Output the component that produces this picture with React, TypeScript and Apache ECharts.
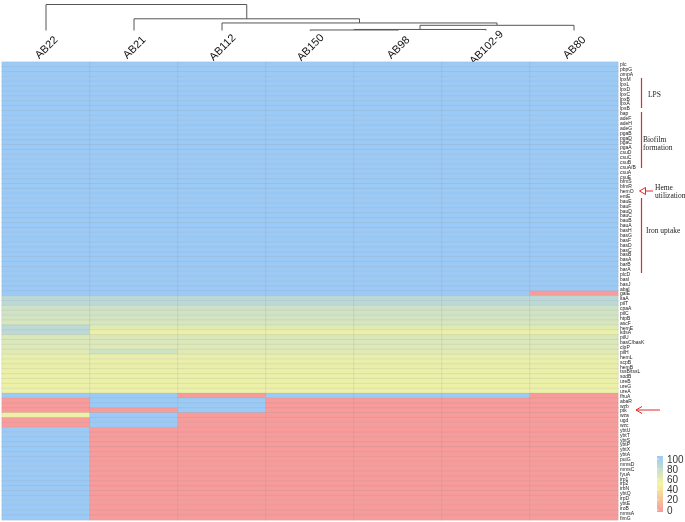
import { useEffect, useRef } from 'react';
import * as echarts from 'echarts';

const strains = ['AB22', 'AB21', 'AB112', 'AB150', 'AB98', 'AB102-9', 'AB80'];

const genes = [
  'plc', 'pbpG', 'ompA', 'lpxM', 'lpxL', 'lpxD', 'lpxC', 'lpxB', 'lpxA', 'lpsB',
  'bap', 'adeF', 'adeH', 'adeG', 'pgaB', 'pgaD', 'pgaC', 'pgaA', 'csuD', 'csuC',
  'csuB', 'csuA/B', 'csuA', 'csuE', 'bfmS', 'bfmR', 'hemO', 'entE', 'bauE', 'bauF',
  'bauD', 'bauC', 'bauB', 'bauA', 'basH', 'basG', 'basF', 'basD', 'basC', 'basB',
  'basA', 'barB', 'barA', 'plcD', 'basI', 'basJ', 'abaI', 'galE', 'ltaA', 'pilT',
  'cpaA', 'pilC', 'htpB', 'ascF', 'hemE', 'kdsA', 'pilU', 'basC/basK', 'clpP', 'pilH',
  'hemL', 'scpB', 'hemB', 'tssB/tssL', 'sodB', 'ureB', 'ureG', 'ureA', 'fhuA', 'abaR',
  'wzb', 'ptk', 'wza', 'ugd', 'wzc', 'ybtU', 'ybtT', 'ybtS', 'ybtP', 'ybtX',
  'ybtA', 'puiG', 'mmsD', 'mmsC', 'fyuA', 'irp1', 'irp2', 'irbN', 'ybtQ', 'irpD',
  'ybtE', 'iroB', 'mmsA', 'fimG',
];

// identity (%) per strain, one value per gene (top to bottom)
const AB22 = [
  100, 100, 100, 100, 100, 100, 100, 100, 100, 100,
  100, 100, 100, 100, 100, 100, 100, 100, 100, 100,
  100, 100, 100, 100, 100, 100, 100, 100, 100, 100,
  100, 100, 100, 100, 100, 100, 100, 100, 100, 100,
  100, 100, 100, 100, 100, 100, 100, 100, 82, 82,
  72, 71, 70, 68, 82, 82, 66, 65, 64, 63,
  58, 57, 57, 56, 56, 55, 55, 55, 100, 0,
  0, 0, 55, 0, 0, 100, 100, 100, 100, 100,
  100, 100, 100, 100, 100, 100, 100, 100, 100, 100,
  100, 100, 100, 100,
];
const AB21 = [
  100, 100, 100, 100, 100, 100, 100, 100, 100, 100,
  100, 100, 100, 100, 100, 100, 100, 100, 100, 100,
  100, 100, 100, 100, 100, 100, 100, 100, 100, 100,
  100, 100, 100, 100, 100, 100, 100, 100, 100, 100,
  100, 100, 100, 100, 100, 100, 100, 100, 82, 82,
  72, 71, 70, 68, 62, 55, 66, 65, 64, 72,
  58, 57, 57, 56, 56, 55, 55, 55, 100, 100,
  100, 0, 100, 100, 100, 0, 0, 0, 0, 0,
  0, 0, 0, 0, 0, 0, 0, 0, 0, 0,
  0, 0, 0, 0,
];
const AB112 = [
  100, 100, 100, 100, 100, 100, 100, 100, 100, 100,
  100, 100, 100, 100, 100, 100, 100, 100, 100, 100,
  100, 100, 100, 100, 100, 100, 100, 100, 100, 100,
  100, 100, 100, 100, 100, 100, 100, 100, 100, 100,
  100, 100, 100, 100, 100, 100, 100, 100, 82, 82,
  72, 71, 70, 68, 62, 55, 66, 65, 64, 63,
  58, 57, 57, 56, 56, 55, 55, 55, 0, 100,
  100, 100, 0, 0, 0, 0, 0, 0, 0, 0,
  0, 0, 0, 0, 0, 0, 0, 0, 0, 0,
  0, 0, 0, 0,
];
const AB150 = [
  100, 100, 100, 100, 100, 100, 100, 100, 100, 100,
  100, 100, 100, 100, 100, 100, 100, 100, 100, 100,
  100, 100, 100, 100, 100, 100, 100, 100, 100, 100,
  100, 100, 100, 100, 100, 100, 100, 100, 100, 100,
  100, 100, 100, 100, 100, 100, 100, 100, 82, 82,
  72, 71, 70, 68, 62, 55, 66, 65, 64, 63,
  58, 57, 57, 56, 56, 55, 55, 55, 100, 0,
  0, 0, 0, 0, 0, 0, 0, 0, 0, 0,
  0, 0, 0, 0, 0, 0, 0, 0, 0, 0,
  0, 0, 0, 0,
];
const AB98 = [
  100, 100, 100, 100, 100, 100, 100, 100, 100, 100,
  100, 100, 100, 100, 100, 100, 100, 100, 100, 100,
  100, 100, 100, 100, 100, 100, 100, 100, 100, 100,
  100, 100, 100, 100, 100, 100, 100, 100, 100, 100,
  100, 100, 100, 100, 100, 100, 100, 100, 82, 82,
  72, 71, 70, 68, 62, 55, 66, 65, 64, 63,
  58, 57, 57, 56, 56, 55, 55, 55, 100, 0,
  0, 0, 0, 0, 0, 0, 0, 0, 0, 0,
  0, 0, 0, 0, 0, 0, 0, 0, 0, 0,
  0, 0, 0, 0,
];
const AB102_9 = [
  100, 100, 100, 100, 100, 100, 100, 100, 100, 100,
  100, 100, 100, 100, 100, 100, 100, 100, 100, 100,
  100, 100, 100, 100, 100, 100, 100, 100, 100, 100,
  100, 100, 100, 100, 100, 100, 100, 100, 100, 100,
  100, 100, 100, 100, 100, 100, 100, 100, 82, 82,
  72, 71, 70, 68, 62, 55, 66, 65, 64, 63,
  58, 57, 57, 56, 56, 55, 55, 55, 100, 0,
  0, 0, 0, 0, 0, 0, 0, 0, 0, 0,
  0, 0, 0, 0, 0, 0, 0, 0, 0, 0,
  0, 0, 0, 0,
];
const AB80 = [
  100, 100, 100, 100, 100, 100, 100, 100, 100, 100,
  100, 100, 100, 100, 100, 100, 100, 100, 100, 100,
  100, 100, 100, 100, 100, 100, 100, 100, 100, 100,
  100, 100, 100, 100, 100, 100, 100, 100, 100, 100,
  100, 100, 100, 100, 100, 100, 100, 0, 82, 82,
  72, 71, 70, 68, 62, 55, 66, 65, 64, 63,
  58, 57, 57, 56, 56, 55, 55, 55, 0, 0,
  0, 0, 0, 0, 0, 0, 0, 0, 0, 0,
  0, 0, 0, 0, 0, 0, 0, 0, 0, 0,
  0, 0, 0, 0,
];

const legendTicks = [0, 20, 40, 60, 80, 100];

// column dendrogram: merges with relative heights
const dendroMerges = [
  { id: 'm0', a: 'AB150', b: 'AB98', h: 0.02 },
  { id: 'm1', a: 'm0', b: 'AB102-9', h: 0.04 },
  { id: 'm2', a: 'm1', b: 'AB80', h: 0.2 },
  { id: 'm3', a: 'AB112', b: 'm2', h: 0.29 },
  { id: 'm4', a: 'AB21', b: 'm3', h: 0.45 },
  { id: 'm5', a: 'AB22', b: 'm4', h: 1.0 },
];

const RED = '#F79B9B';
const YELLOW = '#F6F59F';
const BLUE = '#9CCAF6';
const ANNOT = '#E8262B';

export default function App() {
  const ref = useRef<HTMLDivElement>(null);
  useEffect(() => {
    const chart = echarts.init(ref.current!, null, { renderer: 'svg' });
    const columns = [AB22, AB21, AB112, AB150, AB98, AB102_9, AB80];
    const data: number[][] = [];
    columns.forEach((col, x) => col.forEach((v, y) => data.push([x, y, v])));

    chart.setOption({
      animation: false,
      grid: { left: 2, right: 67, top: 62, bottom: 2, containLabel: false },
      xAxis: {
        type: 'category',
        data: strains,
        position: 'top',
        axisLine: { show: false },
        axisTick: { show: false },
        splitLine: { show: false },
        axisLabel: {
          rotate: -45,
          fontSize: 11,
          margin: 15,
          color: '#111',
          fontFamily: 'Liberation Sans, Arial',
          align: 'center',
          verticalAlign: 'middle',
        },
      },
      yAxis: {
        type: 'category',
        data: genes,
        inverse: true,
        position: 'right',
        axisLine: { show: false },
        axisTick: { show: false },
        splitLine: { show: false },
        axisLabel: {
          interval: 0,
          fontSize: 5,
          margin: 2,
          color: '#222',
          fontFamily: 'Liberation Sans, Arial',
          hideOverlap: false,
        },
      },
      visualMap: {
        show: false,
        type: 'continuous',
        min: 0,
        max: 100,
        dimension: 2,
        inRange: { color: [RED, YELLOW, BLUE] },
      },
      series: [
        {
          type: 'heatmap',
          data,
          itemStyle: { borderColor: 'rgba(150,150,150,0.25)', borderWidth: 0.6 },
          emphasis: { disabled: true },
        },
      ],
    });

    // dendrogram
    const baseY = 30.5;
    const topY = 4.5;
    const nodes: Record<string, { x: number; y: number }> = {};
    strains.forEach((s) => {
      nodes[s] = { x: chart.convertToPixel({ xAxisIndex: 0 }, s) as number, y: baseY };
    });
    const maxH = Math.max(...dendroMerges.map((m) => m.h));
    const dendro = dendroMerges.map((m) => {
      const a = nodes[m.a];
      const b = nodes[m.b];
      const y = baseY - (m.h / maxH) * (baseY - topY);
      nodes[m.id] = { x: (a.x + b.x) / 2, y };
      return {
        type: 'polyline',
        shape: { points: [[a.x, a.y], [a.x, y], [b.x, y], [b.x, b.y]] },
        style: { stroke: '#555', lineWidth: 1, fill: null },
        silent: true,
      };
    });

    const serif = 'Liberation Serif, Times New Roman, serif';
    const txt = (x: number, y: number, text: string) => ({
      type: 'text',
      x,
      y,
      style: { text, fill: '#222', fontSize: 7.5, fontFamily: serif, verticalAlign: 'middle' },
      silent: true,
    });
    const vline = (x: number, y1: number, y2: number) => ({
      type: 'line',
      shape: { x1: x, y1, x2: x, y2 },
      style: { stroke: ANNOT, lineWidth: 1.2 },
      silent: true,
    });

    const annotations = [
      vline(641.5, 78, 108),
      txt(648, 94, 'LPS'),
      vline(641.5, 112, 168),
      txt(643, 139, 'Biofilm'),
      txt(643, 147.5, 'formation'),
      { type: 'line', shape: { x1: 645, y1: 191, x2: 653, y2: 191 }, style: { stroke: ANNOT, lineWidth: 1 }, silent: true },
      { type: 'polygon', shape: { points: [[639.5, 191], [645.5, 187.5], [645.5, 194.5]] }, style: { stroke: ANNOT, fill: '#fff', lineWidth: 1 }, silent: true },
      txt(655, 187.5, 'Heme'),
      txt(655, 195.5, 'utilization'),
      vline(641.5, 198, 273),
      txt(646, 230, 'Iron uptake'),
      { type: 'line', shape: { x1: 636, y1: 410, x2: 660, y2: 410 }, style: { stroke: ANNOT, lineWidth: 1 }, silent: true },
      { type: 'polyline', shape: { points: [[642, 406.5], [636, 410], [642, 413.5]] }, style: { stroke: ANNOT, lineWidth: 1, fill: null }, silent: true },
    ];

    // colour key
    const barX = 657;
    const barTop = 456;
    const barBottom = 512;
    const v2y = (v: number) => 510 - (v / 100) * 51;
    const legend: any[] = [
      {
        type: 'rect',
        shape: { x: barX, y: barTop, width: 6, height: barBottom - barTop },
        style: {
          fill: new echarts.graphic.LinearGradient(0, 0, 0, 1, [
            { offset: 0, color: BLUE },
            { offset: 0.5, color: YELLOW },
            { offset: 1, color: RED },
          ]),
        },
        silent: true,
      },
    ];
    legendTicks.forEach((t) => {
      legend.push({
        type: 'line',
        shape: { x1: barX, y1: v2y(t), x2: barX + 1.5, y2: v2y(t) },
        style: { stroke: '#fff', lineWidth: 0.8 },
        silent: true,
      });
      legend.push({
        type: 'text',
        x: 667,
        y: v2y(t),
        style: { text: String(t), fill: '#333', fontSize: 10, fontFamily: 'Liberation Sans, Arial', verticalAlign: 'middle' },
        silent: true,
      });
    });

    chart.setOption({ graphic: [...dendro, ...annotations, ...legend] });
    return () => chart.dispose();
  }, []);
  return <div ref={ref} style={{ position: 'fixed', left: 0, top: 0, width: 685, height: 522 }} />;
}
